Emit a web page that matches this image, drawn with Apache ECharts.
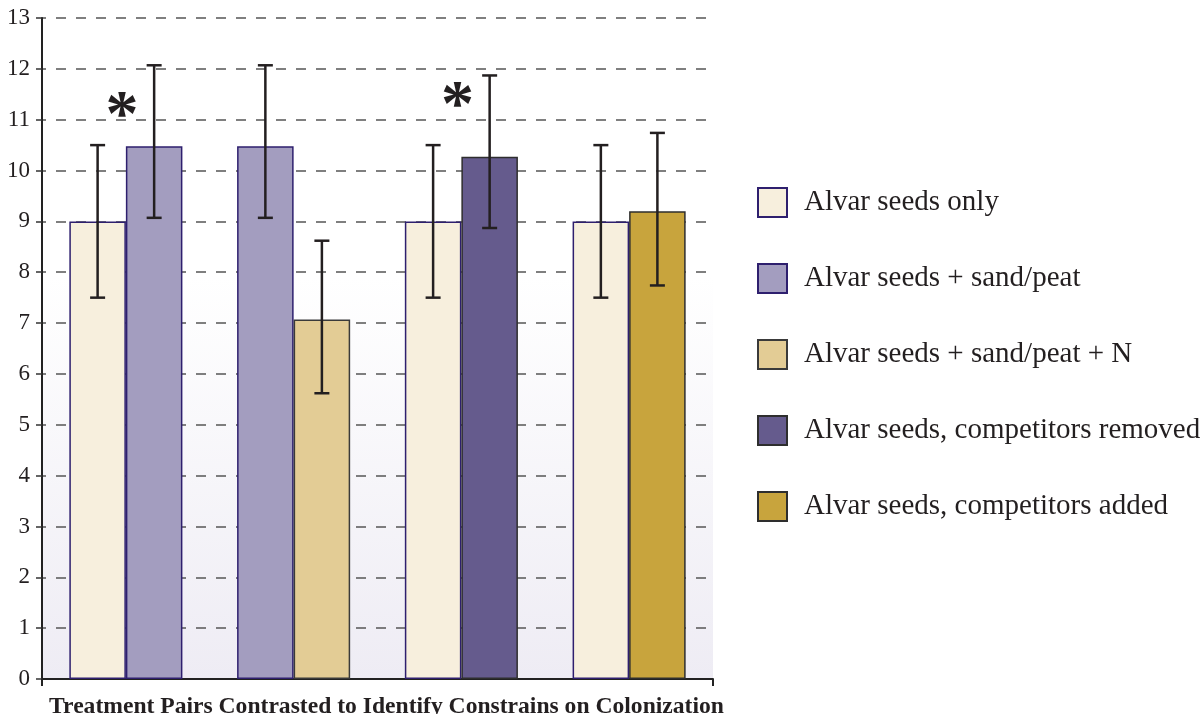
<!DOCTYPE html>
<html>
<head>
<meta charset="utf-8">
<script src="https://cdn.jsdelivr.net/npm/echarts@6/dist/echarts.min.js"></script>
<style>
  html, body { margin: 0; padding: 0; background: #ffffff; }
  #chart { width: 1202px; height: 714px; }
</style>
</head>
<body>
<div id="chart"></div>
<script>
// Treatment pairs (left bar / right bar per pair)
const pairs = ['Pair 1', 'Pair 2', 'Pair 3', 'Pair 4'];

// Treatment names (legend order)
const treatments = [
  'Alvar seeds only',
  'Alvar seeds + sand/peat',
  'Alvar seeds + sand/peat + N',
  'Alvar seeds, competitors removed',
  'Alvar seeds, competitors added'
];

// Mean values of each treatment in each pair
const seedsOnly        = [9.0, null, 9.0, 9.0];   // left bar
const sandPeatLeft     = [null, 10.48, null, null]; // left bar in pair 2
const sandPeatRight    = [10.48, null, null, null]; // right bar in pair 1
const sandPeatN        = [null, 7.07, null, null];
const compRemoved      = [null, null, 10.27, null];
const compAdded        = [null, null, null, 9.2];

// Error bar ranges: [low, high] for left and right bars of each pair
const leftLow   = [7.5, 9.07, 7.5, 7.5];
const leftHigh  = [10.5, 12.07, 10.5, 10.5];
const rightLow  = [9.07, 5.62, 8.87, 7.74];
const rightHigh = [12.07, 8.62, 11.87, 10.74];

// Significance markers (height of the asterisk, null = none)
const signif = [11.3, null, 11.5, null];

const yTicks = { min: 0, max: 13, interval: 1 };

const fills   = ['#f7efdd', '#a39dbf', '#e3cc95', '#655b8d', '#c8a43d'];
const borders = ['#2e1f6e', '#2e1f6e', '#3a3a3a', '#2e2e2e', '#2e2e2e'];

const CAT_GAP = 0.326;
const serif = '"Liberation Serif", "Times New Roman", serif';
const ink = '#231f20';

function barSeries(name, data, stack, idx) {
  return {
    name: name,
    type: 'bar',
    stack: stack,
    data: data,
    barGap: '0%',
    barCategoryGap: (CAT_GAP * 100) + '%',
    itemStyle: { color: fills[idx], borderColor: borders[idx], borderWidth: 1.5 },
    emphasis: { disabled: true },
    z: 2
  };
}

// Error bar items: [category, low, high, side]
const errData = [];
pairs.forEach((p, i) => {
  errData.push([i, leftLow[i], leftHigh[i], -1]);
  errData.push([i, rightLow[i], rightHigh[i], 1]);
});

const starData = [];
signif.forEach((v, i) => { if (v != null) starData.push([i, v]); });

const chart = echarts.init(document.getElementById('chart'), null, { renderer: 'canvas' });

const STAR_SIZE = 66;

chart.setOption({
  animation: false,
  backgroundColor: '#ffffff',
  grid: {
    left: 42, right: 489, top: 18, bottom: 35,
    outerBoundsMode: 'none',
    containLabel: false,
    show: true,
    borderWidth: 0,
    backgroundColor: {
      type: 'linear', x: 0, y: 0, x2: 0, y2: 1,
      colorStops: [
        { offset: 0, color: '#ffffff' },
        { offset: 0.39, color: '#ffffff' },
        { offset: 1, color: '#eeecf4' }
      ]
    }
  },
  legend: {
    orient: 'vertical',
    left: 757, top: 187,
    padding: 0,
    itemWidth: 29, itemHeight: 29,
    itemGap: 45,
    icon: 'rect',
    selectedMode: false,
    data: treatments,
    textStyle: { fontFamily: serif, fontSize: 29, lineHeight: 29, color: ink, padding: [0, 0, 0, 12] }
  },
  xAxis: {
    type: 'category',
    data: pairs,
    boundaryGap: true,
    name: 'Treatment Pairs Contrasted to Identify Constrains on Colonization',
    nameLocation: 'middle',
    nameGap: 16,
    nameTextStyle: { fontFamily: serif, fontSize: 23.6, fontWeight: 'bold', color: ink, padding: [0, 0, 0, 18] },
    axisLine: { lineStyle: { color: '#222', width: 2 } },
    axisTick: { show: true, length: 7, lineStyle: { color: '#222', width: 2 },
      interval: function (i) { return i === 0 || i === pairs.length; } },
    axisLabel: { show: false },
    splitLine: { show: false }
  },
  yAxis: {
    type: 'value',
    min: yTicks.min, max: yTicks.max, interval: yTicks.interval,
    axisLine: { show: true, lineStyle: { color: '#222', width: 2 } },
    axisTick: { show: true, length: 6, lineStyle: { color: '#333', width: 1.5 } },
    axisLabel: { fontFamily: serif, fontSize: 23, color: ink, margin: 12 },
    splitLine: { show: true, lineStyle: { color: '#555', width: 1.5, type: [10, 10], dashOffset: 6 } }
  },
  series: [
    barSeries(treatments[0], seedsOnly, 'L', 0),
    barSeries(treatments[1], sandPeatLeft, 'L', 1),
    barSeries(treatments[1], sandPeatRight, 'R', 1),
    barSeries(treatments[2], sandPeatN, 'R', 2),
    barSeries(treatments[3], compRemoved, 'R', 3),
    barSeries(treatments[4], compAdded, 'R', 4),
    {
      type: 'custom',
      name: 'error',
      data: errData,
      z: 5,
      silent: true,
      renderItem: function (params, api) {
        const cat = api.value(0);
        const band = api.size([1, 0])[0];
        const barW = band * (1 - CAT_GAP) / 2;
        const cx = api.coord([cat, 0])[0] + api.value(3) * barW / 2;
        const yLo = api.coord([cat, api.value(1)])[1];
        const yHi = api.coord([cat, api.value(2)])[1];
        const cap = 7.5;
        const style = { stroke: '#231f20', lineWidth: 2.5 };
        return {
          type: 'group',
          children: [
            { type: 'line', shape: { x1: cx, y1: yLo, x2: cx, y2: yHi }, style: style },
            { type: 'line', shape: { x1: cx - cap, y1: yLo, x2: cx + cap, y2: yLo }, style: style },
            { type: 'line', shape: { x1: cx - cap, y1: yHi, x2: cx + cap, y2: yHi }, style: style }
          ]
        };
      }
    },
    {
      type: 'custom',
      name: 'signif',
      data: starData,
      z: 6,
      silent: true,
      renderItem: function (params, api) {
        const p = api.coord([api.value(0), api.value(1)]);
        // the asterisk glyph sits high in its em box; shift so its centre lands on the value
        return {
          type: 'text',
          x: p[0] - 4,
          y: p[1] + STAR_SIZE * 0.2,
          style: {
            text: '*',
            fontFamily: serif,
            fontWeight: 'bold',
            fontSize: STAR_SIZE,
            fill: ink,
            align: 'center',
            verticalAlign: 'middle'
          }
        };
      }
    }
  ]
});
</script>
</body>
</html>
